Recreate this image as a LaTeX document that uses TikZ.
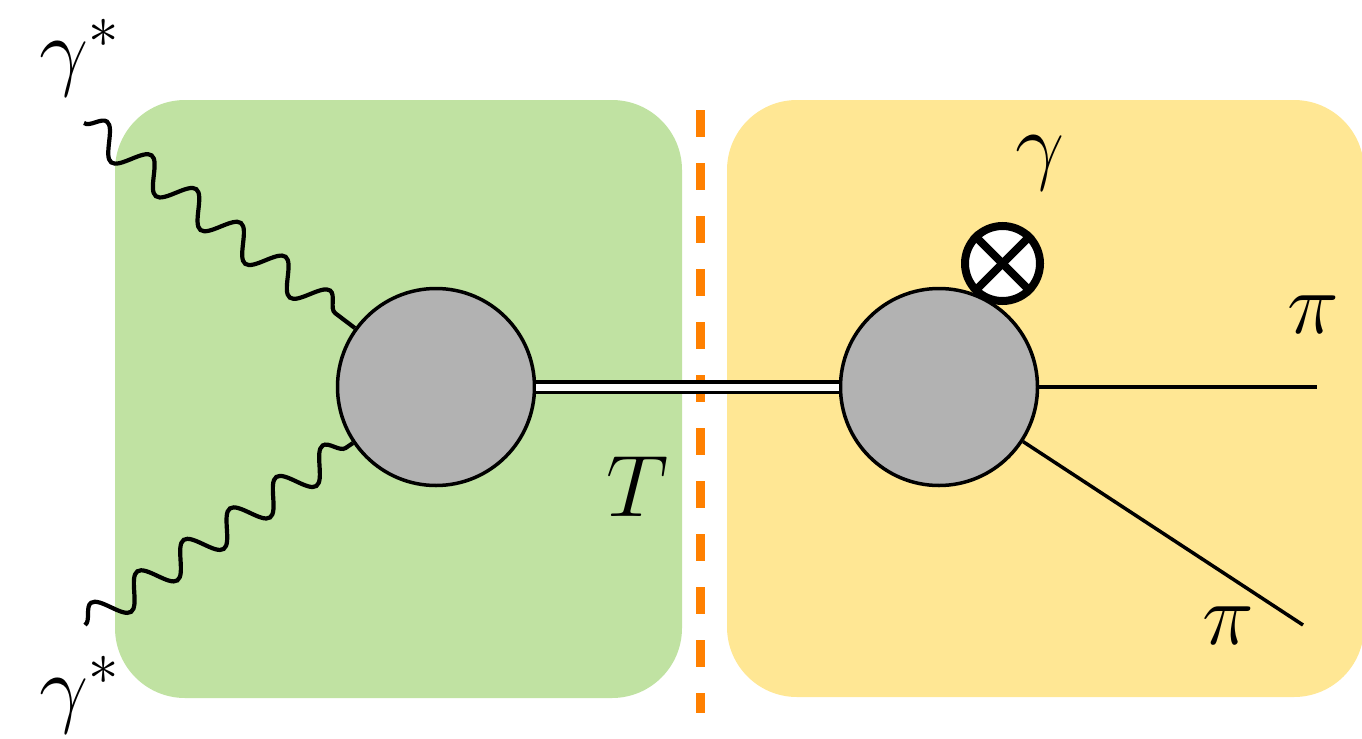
\documentclass[tikz,border=0pt]{standalone}
\usepackage{xcolor}
\usepackage{tikz}
\usetikzlibrary{decorations.pathmorphing,positioning}

\definecolor{boxgreen}{RGB}{192,226,162}
\definecolor{boxyellow}{RGB}{255,231,148}
\definecolor{cutorange}{RGB}{255,128,0}
\definecolor{blobgray}{RGB}{178,178,178}

\begin{document}
\begin{tikzpicture}[
  region/.style={
    rounded corners=0.7cm,
    draw=none
  },
  blob/.style={
    circle,
    draw,
    fill=blobgray,
    line width=0.035cm,
    minimum size=1.97cm,
    inner sep=0pt
  },
  photon/.style={
    line width=0.042cm,
    decorate,
    decoration={snake,segment length=0.56cm,amplitude=0.15cm}
  },
  meson/.style={
    double,
    line width=0.035cm,
    double distance=0.07cm
  },
  pion/.style={line width=0.035cm},
  lbl/.style={font=\fontsize{25}{30}\selectfont,inner sep=0pt}
]
\useasboundingbox (0,0) rectangle (13.62,7.38);
\fill[region,boxgreen] (1.15,0.40) rectangle (6.82,6.38);
\fill[region,boxyellow] (7.27,0.41) rectangle (13.64,6.38);
\draw[cutorange,line width=0.09cm,dash pattern=on 0.27cm off 0.26cm]
  (7.00,6.28) -- (7.00,0.25);

\node[blob] (blobL) at (4.36,3.51) {};
\node[blob] (blobR) at (9.39,3.51) {};
\node[circle,draw,fill=white,line width=0.08cm,minimum size=0.75cm,inner sep=0pt]
  (probe) at (10.025,4.745) {};
\draw[line width=0.08cm] (probe.45) -- (probe.225);
\draw[line width=0.08cm] (probe.135) -- (probe.315);

\coordinate (inTop) at (0.84,6.15);
\coordinate (inBot) at (0.85,1.13);
\coordinate (outA) at (13.17,3.51);
\coordinate (outB) at (13.03,1.13);

\draw[photon] (inTop) -- (blobL.144);
\draw[photon] (inBot) -- (blobL.214);
\draw[meson] (blobL) -- (blobR);
\draw[pion] (blobR.east) -- (outA);
\draw[pion] (blobR.-33) -- (outB);

\node[lbl] (gTop) at (0.80,6.80) {$\gamma^*$};
\node[lbl] (gBot) at (0.80,0.43) {$\gamma^*$};
\node[lbl] (gOut) at (10.40,5.75) {$\gamma$};
\node[lbl] (tLbl) at (6.38,2.51) {$T$};
\node[lbl] (piA) at (13.13,4.23) {$\pi$};
\node[lbl] (piB) at (12.28,1.12) {$\pi$};
\end{tikzpicture}
\end{document}
